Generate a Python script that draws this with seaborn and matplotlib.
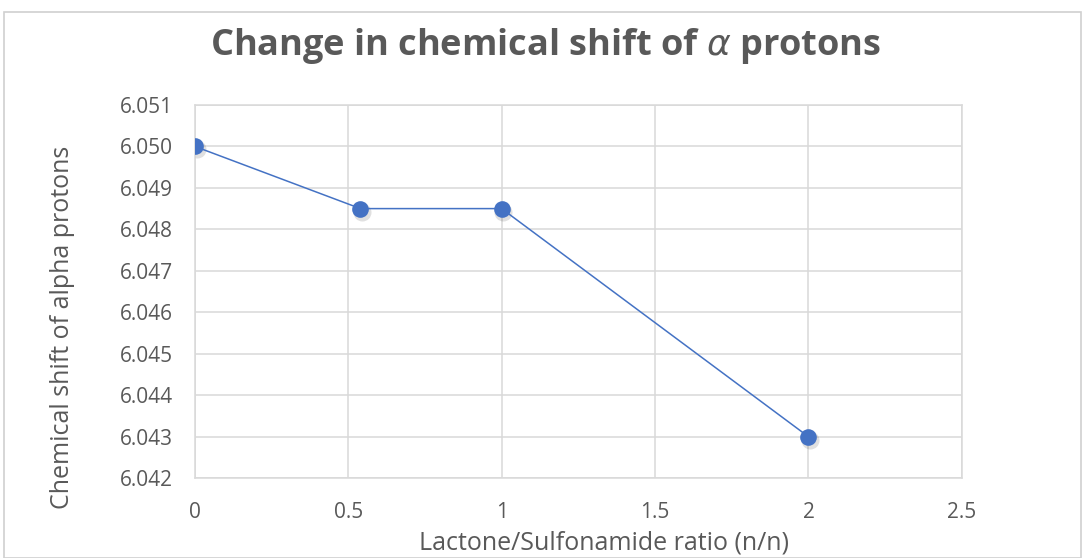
import matplotlib
matplotlib.use("Agg")
import matplotlib.pyplot as plt
import matplotlib.patches as mpatches
import pandas as pd
import seaborn as sns

# Lactone/Sulfonamide molar ratio and chemical shift of the alpha protons (ppm)
ratio = [0.0, 0.54, 1.0, 2.0]
shift = [6.0500, 6.0485, 6.0485, 6.0430]

x_ticks = [0, 0.5, 1, 1.5, 2, 2.5]
x_tick_labels = ["0", "0.5", "1", "1.5", "2", "2.5"]
y_ticks = [6.042, 6.043, 6.044, 6.045, 6.046, 6.047, 6.048, 6.049, 6.050, 6.051]
y_tick_labels = ["6.042", "6.043", "6.044", "6.045", "6.046", "6.047", "6.048", "6.049", "6.050", "6.051"]

title = r"Change in chemical shift of $\alpha$ protons"
x_label = "Lactone/Sulfonamide ratio (n/n)"
y_label = "Chemical shift of alpha protons"

df = pd.DataFrame({"ratio": ratio, "shift": shift})

sns.set_style("white")
plt.rcParams["font.family"] = ["Open Sans", "DejaVu Sans"]

text_grey = "#595959"
grid_grey = "#D9D9D9"
blue = "#4472C4"

fig = plt.figure(figsize=(10.82, 5.58), dpi=100)
ax = fig.add_axes([0.180, 0.143, 0.709, 0.669])

# chart border
fig.patches.append(mpatches.Rectangle((0.004, 0.0), 0.995, 0.978, transform=fig.transFigure,
                                      fill=False, edgecolor="#D0D0D0", linewidth=1.2))

# soft shadow under the markers
ax.plot([r + 0.006 for r in ratio], [s - 0.00007 for s in shift], linestyle="none",
        marker="o", markersize=13, color="#000000", alpha=0.12, markeredgewidth=0, zorder=2)

sns.lineplot(data=df, x="ratio", y="shift", ax=ax, color=blue, linewidth=1.1,
             marker="o", markersize=12, markeredgewidth=0, sort=False, zorder=3)

ax.set_xlim(0, 2.5)
ax.set_ylim(6.042, 6.051)
ax.set_xticks(x_ticks)
ax.set_xticklabels(x_tick_labels)
ax.set_yticks(y_ticks)
ax.set_yticklabels(y_tick_labels)
ax.grid(True, color=grid_grey, linewidth=1.1)
ax.set_axisbelow(True)
for side in ["top", "right", "left", "bottom"]:
    ax.spines[side].set_color(grid_grey)
    ax.spines[side].set_linewidth(1.1)

ax.tick_params(axis="both", length=0, labelsize=15, labelcolor=text_grey)
ax.tick_params(axis="x", pad=17)
ax.tick_params(axis="y", pad=16)

ax.set_xlabel(x_label, fontsize=18, color=text_grey, va="center")
ax.set_ylabel(y_label, fontsize=18, color=text_grey, va="center")
ax.xaxis.set_label_coords(0.533, -0.174)
ax.yaxis.set_label_coords(-0.172, 0.405)

fig.text(0.504, 0.918, title, ha="center", va="center", fontsize=26,
         fontweight="bold", color=text_grey)

fig.savefig("out.png", dpi=100, facecolor="white")
